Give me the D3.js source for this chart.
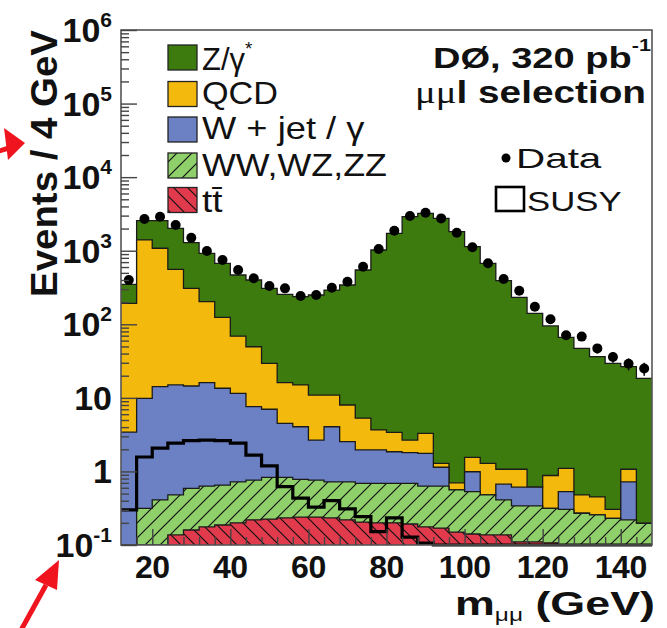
<!DOCTYPE html>
<html><head><meta charset="utf-8">
<script src="https://cdn.jsdelivr.net/npm/d3@7"></script>
<style>body{margin:0;background:#fff}svg{display:block}</style>
</head><body><svg id="c" width="667" height="628"></svg>
<script>
// ---------------- data ----------------
const binLow = [12,16,20,24,28,32,36,40,44,48,52,56,60,64,68,72,76,80,84,88,92,96,100,104,108,112,116,120,124,128,132,136,140,144];
const binWidth = 4;
const dataEvents = [400,2700,2900,2230,1500,990,748,547,422,331,308,242,250,314,379,607,1055,1870,2965,3290,2750,1757,1112,674,412,286,173,117,71,68,47,36,29,25];
// stacked histogram tops (cumulative, as drawn)
const zgStackTop = [349,2560,2560,2015,1285,920,674,468,400,308,255,237,250,292,342,547,1023,1723,2900,3220,2750,1815,1135,674,392,232,141,95,66.5,47,36.3,29.5,26.5,18.4];
const qcdStackTop = [193,1400,1080,558,308,203,124,69,49.5,29.4,16.1,15,10.9,10.9,8.0,5.3,3.66,3.4,2.67,3.3,1.29,0.70,1.55,1.29,1.07,1.07,0.61,0.88,1.1,0.48,0.45,0.305,1.07,0.197];
const wjetStackTop = [3.43,9.86,14.2,15,14.5,16.1,13.5,11.5,7.6,7.0,4.5,4.05,2.67,4.05,2.54,1.96,1.96,1.85,1.8,1.76,1.14,0.56,0.99,0.48,0.67,0.61,0.61,0.315,0.53,0.27,0.256,0.23,0.72,0.197];
const dibosonStackTop = [0,0.315,0.41,0.48,0.59,0.63,0.65,0.72,0.76,0.83,0.83,0.78,0.76,0.72,0.72,0.69,0.69,0.69,0.69,0.63,0.63,0.56,0.53,0.48,0.41,0.34,0.34,0.315,0.305,0.27,0.256,0.23,0.22,0.197];
const ttbarEvents = [0,0,0,0.137,0.16,0.176,0.187,0.2,0.22,0.225,0.233,0.24,0.24,0.233,0.22,0.205,0.2,0.2,0.193,0.176,0.17,0.15,0.141,0.137,0.137,0.11,0.11,0.107,0,0,0,0,0,0];
const susyEvents = [0.30,1.57,2.08,2.43,2.62,2.67,2.62,2.43,1.67,1.19,0.62,0.435,0.328,0.40,0.31,0.243,0.152,0.233,0.128,0.106,0.1,0.1,0.1,0.1,0.1,0.1,0.1,0.1,0.1,0.1,0.1,0.1,0.1,0.1];

const xTickValues = [20,40,60,80,100,120,140];
const yTickValues = [0.1,1,10,100,1e3,1e4,1e5,1e6];
const yTickBase = ["10","1","10","10","10","10","10","10"];
const yTickExp  = ["-1","","","2","3","4","5","6"];

const legendLabels = ["Z/γ", "QCD", "W + jet / γ", "WW,WZ,ZZ", "tt"];

// ---------------- setup ----------------
const svg = d3.select("#c");
const SANS = "'Liberation Sans', Arial, Helvetica, sans-serif";
const x = d3.scaleLinear().domain([12,148]).range([121,652]);
const y = d3.scaleLog().domain([0.1,1e6]).range([545,30]);
const [X0,X1] = x.range(); const [YB,YT] = y.range();

const defs = svg.append("defs");
defs.append("clipPath").attr("id","plotclip").append("rect")
  .attr("x",X0).attr("y",YT).attr("width",X1-X0).attr("height",YB-YT);
function hatch(id, fill, dir, p){
  const pat = defs.append("pattern").attr("id",id).attr("patternUnits","userSpaceOnUse")
    .attr("width",p).attr("height",p);
  pat.append("rect").attr("width",p).attr("height",p).attr("fill",fill);
  const d = dir>0
    ? `M${-p/4},${p/4} l${p/2},${-p/2} M0,${p} l${p},${-p} M${3*p/4},${5*p/4} l${p/2},${-p/2}`
    : `M${-p/4},${3*p/4} l${p/2},${p/2} M0,0 l${p},${p} M${3*p/4},${-p/4} l${p/2},${p/2}`;
  pat.append("path").attr("d",d).attr("stroke","#111").attr("stroke-width",1.2);
}
const COL = {zg:"#3e7b0e", qcd:"#f3b90c", wj:"#6b81c4", vv:"#8fd06a", tt:"#e03a4c"};
hatch("hvv", COL.vv, 1, 15);
hatch("htt", COL.tt, -1, 14);

svg.append("rect").attr("width",667).attr("height",628).attr("fill","#fff");

const clamp = v => Math.max(v, 0.1);
function stepPts(vals){
  const pts=[];
  vals.forEach((v,i)=>{ pts.push([binLow[i],v]); pts.push([binLow[i]+binWidth,v]); });
  return pts;
}
const area = d3.area().x(d=>x(d[0])).y0(YB).y1(d=>y(clamp(d[1])));
const line = d3.line().x(d=>x(d[0])).y(d=>y(clamp(d[1])));

const plot = svg.append("g").attr("clip-path","url(#plotclip)");
const layers = [
  [zgStackTop, COL.zg],
  [qcdStackTop, COL.qcd],
  [wjetStackTop, COL.wj],
  [dibosonStackTop, "url(#hvv)"],
  [ttbarEvents, "url(#htt)"]
];
layers.forEach(([vals,fill])=>{
  const pts = stepPts(vals);
  plot.append("path").attr("d",area(pts)).attr("fill",fill);
  plot.append("path").attr("d",line(pts)).attr("fill","none").attr("stroke","#1a1a1a").attr("stroke-width",1.3);
});

// SUSY outline
svg.append("path").attr("d",line(stepPts(susyEvents))).attr("fill","none")
  .attr("stroke","#000").attr("stroke-width",3.2).attr("stroke-linejoin","miter");

// data points
const centers = binLow.map(b=>b+binWidth/2);
const dg = svg.append("g");
dataEvents.forEach((n,i)=>{
  const e = Math.sqrt(n);
  dg.append("line").attr("x1",x(centers[i])).attr("x2",x(centers[i]))
    .attr("y1",y(n+e)).attr("y2",y(Math.max(n-e,0.1))).attr("stroke","#000").attr("stroke-width",1.5);
  dg.append("circle").attr("cx",x(centers[i])).attr("cy",y(n)).attr("r",5).attr("fill","#000");
});

// frame
svg.append("rect").attr("x",X0).attr("y",YT).attr("width",X1-X0).attr("height",YB-YT)
  .attr("fill","none").attr("stroke","#555").attr("stroke-width",1.6);

// axes ticks (inside)
const yMinor = [];
for (let e=-1;e<6;e++) for (let m=2;m<10;m++) yMinor.push(m*Math.pow(10,e));
const xMinor = binLow.filter(v=>v>12 && v%20!==0);
const ax = svg.append("g").attr("class","axes");
ax.append("g").attr("transform",`translate(${X0},0)`)
  .call(d3.axisLeft(y).tickValues(yTickValues).tickSize(-16).tickFormat(""));
ax.append("g").attr("transform",`translate(${X0},0)`)
  .call(d3.axisLeft(y).tickValues(yMinor).tickSize(-8).tickFormat(""));
ax.append("g").attr("transform",`translate(0,${YB})`)
  .call(d3.axisBottom(x).tickValues(xTickValues).tickSize(-16).tickFormat(""));
ax.append("g").attr("transform",`translate(0,${YB})`)
  .call(d3.axisBottom(x).tickValues(xMinor).tickSize(-8).tickFormat(""));
ax.selectAll(".domain").remove();
ax.selectAll(".tick line").attr("stroke","#444").attr("stroke-width",1.4);

// tick labels
const tl = svg.append("g").attr("font-family",SANS).attr("font-weight","bold").attr("fill","#111");
xTickValues.forEach(v=>{
  tl.append("text").attr("x",x(v)).attr("y",578).attr("text-anchor","middle")
    .attr("font-size",32).attr("letter-spacing",-0.5).text(v);
});
yTickValues.forEach((v,i)=>{
  const t = tl.append("text").attr("x",112).attr("y",y(v)+12).attr("text-anchor","end").attr("font-size",34);
  t.append("tspan").text(yTickBase[i]);
  if (yTickExp[i]) t.append("tspan").attr("font-size",21).attr("dy",-15).text(yTickExp[i]);
});

// fit helper (horizontal stretch to match measured widths)
function fit(sel, x0, x1){
  const bb = sel.node().getBBox(); const sx = (x1-x0)/bb.width;
  sel.attr("transform",`translate(${x0 - bb.x*sx},0) scale(${sx},1)`);
}

// axis titles
svg.append("text").attr("transform","translate(57,30) rotate(-90)")
  .attr("text-anchor","end").attr("font-family",SANS).attr("font-weight","bold")
  .attr("font-size",36).attr("fill","#111").attr("textLength",267).attr("lengthAdjust","spacingAndGlyphs")
  .text("Events / 4 GeV");

const xt = svg.append("text").attr("x",0).attr("y",615).attr("font-family",SANS).attr("fill","#111");
xt.append("tspan").attr("font-weight","bold").attr("font-size",33).text("m");
xt.append("tspan").attr("font-size",18).attr("dy",6).text("μμ");
xt.append("tspan").attr("font-weight","bold").attr("font-size",33).attr("dy",-6).text(" (GeV)");
fit(xt, 455, 655);

// legend
const lg = svg.append("g").attr("font-family",SANS).attr("fill","#111");
const legFills = [COL.zg, COL.qcd, COL.wj, "url(#hvv)", "url(#htt)"];
const rowTop = [45,81.5,117,153,187.5];
const rowBase = [70,104,139,176,212];
const rowEnd = [253,278,365,387,223];
legendLabels.forEach((lab,i)=>{
  lg.append("rect").attr("x",168).attr("y",rowTop[i]).attr("width",29).attr("height",25)
    .attr("fill",legFills[i]).attr("stroke","#222").attr("stroke-width",1.3);
  const t = lg.append("text").attr("x",0).attr("y",rowBase[i]).attr("font-size",31);
  if (i===0){ t.append("tspan").text(lab); t.append("tspan").attr("font-size",19).attr("dy",-15).text("*"); }
  else if (i===4){ t.append("tspan").text("t"); t.append("tspan").text("t\u0304"); }
  else t.text(lab);
  fit(t, 202, rowEnd[i]);
});

// top-right labels
const rt = svg.append("g").attr("font-family",SANS).attr("fill","#111");
const t1 = rt.append("text").attr("x",0).attr("y",68).attr("font-weight","bold").attr("font-size",30);
t1.append("tspan").text("DØ, 320 pb");
t1.append("tspan").attr("font-size",17).attr("dy",-17).text("-1");
fit(t1, 433, 651);
const t2 = rt.append("text").attr("x",0).attr("y",103).attr("font-size",31);
t2.append("tspan").attr("font-family","'Liberation Serif', 'Times New Roman', serif").text("μμ");
t2.append("tspan").attr("font-weight","bold").text("l selection");
fit(t2, 415, 646);
rt.append("circle").attr("cx",506).attr("cy",158).attr("r",4.5).attr("fill","#000");
const t3 = rt.append("text").attr("x",0).attr("y",168).attr("font-size",28).text("Data");
fit(t3, 516, 602);
rt.append("rect").attr("x",496).attr("y",187).attr("width",28).attr("height",24)
  .attr("fill","none").attr("stroke","#000").attr("stroke-width",2.6);
const t4 = rt.append("text").attr("x",0).attr("y",211).attr("font-size",28).text("SUSY");
fit(t4, 527, 622);

// red annotation arrows
const ar = svg.append("g").attr("fill","#f0141e").attr("stroke","#f0141e");
ar.append("line").attr("x1",-4).attr("y1",152).attr("x2",12).attr("y2",147).attr("stroke-width",5);
ar.append("path").attr("d","M25,143 L4,128 L8,160 Z").attr("stroke","none");
ar.append("line").attr("x1",20).attr("y1",632).attr("x2",46).attr("y2",585).attr("stroke-width",5);
ar.append("path").attr("d","M59,560 L35,580 L57,590 Z").attr("stroke","none");
</script></body></html>
